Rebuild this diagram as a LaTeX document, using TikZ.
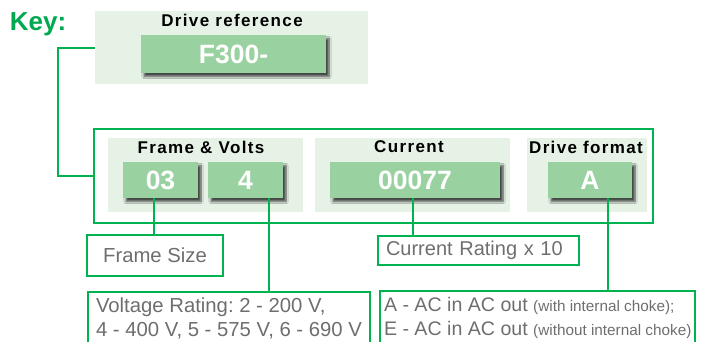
\documentclass[tikz,border=0pt]{standalone}
\usepackage{fontspec}
\setmainfont{Liberation Sans}
\usetikzlibrary{shadows.blur}
\definecolor{keygreen}{RGB}{0,168,80}
\definecolor{linegreen}{RGB}{0,178,80}
\definecolor{panelfill}{RGB}{230,242,230}
\definecolor{codefill}{RGB}{153,209,160}
\definecolor{notegray}{RGB}{110,110,112}
\begin{document}
\begin{tikzpicture}[x=1pt,y=-1pt,
		panel/.style={fill=panelfill, inner sep=0pt},
		codebox/.style={fill=codefill, text=white, inner sep=0pt, font=\fontsize{26.5}{26}\selectfont\bfseries,
			blur shadow={shadow xshift=3pt, shadow yshift=-3.5pt, shadow blur steps=6, shadow opacity=70}},
		heading/.style={font=\fontsize{17}{18}\selectfont\bfseries\addfontfeatures{LetterSpace=8}},
		note/.style={draw=linegreen, line width=2pt, text=notegray, font=\fontsize{20.3}{24}\selectfont\frenchspacing, align=left},
		link/.style={draw=linegreen, line width=2pt}]
			\useasboundingbox (0,0) rectangle (702,341);
			\clip (0,0) rectangle (702,341);
			\node (key) [text=keygreen, font=\fontsize{26}{26}\selectfont\bfseries] at (38,24) {Key:};
			\node (refpanel) [panel, minimum width=273, minimum height=73] at (231.5,47.5) {};
			\node (reftitle) [heading] at (232,20) {Drive reference};
			\node (bF300) [codebox, minimum width=185, minimum height=38] at (233.5,54) {F300-};
			\node (bigbox) [draw=linegreen, line width=2pt, minimum width=559, minimum height=94] at (373.5,176) {};
			\node (fvpanel) [panel, minimum width=195, minimum height=74] at (205.5,175) {};
			\node (curpanel) [panel, minimum width=195, minimum height=74] at (412.5,175) {};
			\node (fmtpanel) [panel, minimum width=120, minimum height=74] at (587,175) {};
			\node (fvtitle) [heading] at (201,147) {Frame \& Volts};
			\node (curtitle) [heading] at (409,147) {Current};
			\node (fmttitle) [heading] at (586,147) {Drive format};
			\node (b03) [codebox, minimum width=75, minimum height=36] at (160.5,180) {03};
			\node (b4) [codebox, minimum width=75, minimum height=36] at (245.5,180) {4};
			\node (b00077) [codebox, minimum width=170, minimum height=36] at (415,180) {00077};
			\node (bA) [codebox, minimum width=84, minimum height=36] at (590,180) {A};
			\node (framesize) [note, minimum width=136, minimum height=41] at (155,255.5) {Frame Size};
			\node (currating) [note, font=\fontsize{20}{24}\selectfont, anchor=north west, text width=185, minimum height=29, inner xsep=8pt, inner ysep=0pt] at (377,235) {Current Rating x 10};
			\node (voltage) [note, anchor=north west, inner xsep=8pt, inner ysep=6pt] at (87,291) {Voltage Rating: 2 - 200 V,\\4 - 400 V, 5 - 575 V, 6 - 690 V};
			\node (acdc) [note, font=\fontsize{19.6}{24}\selectfont\frenchspacing, anchor=north west, inner xsep=4pt, inner ysep=6pt] at (379,290) {A - AC in AC out {\fontsize{15.3}{24}\selectfont(with internal choke);}\\E - AC in AC out {\fontsize{15.3}{24}\selectfont(without internal choke)}};
			\draw [link] (refpanel.west) -- ++(-37,0) |- (bigbox.west);
			\draw [link] ([xshift=-6.5pt]b03.south) -- ([xshift=-6.5pt]b03.south |- framesize.north);
			\draw [link] ([xshift=23.5pt]b4.south) -- ([xshift=23.5pt]b4.south |- voltage.north);
			\draw [link] ([xshift=-2pt]b00077.south) -- ([xshift=-2pt]b00077.south |- currating.north);
			\draw [link] ([xshift=18pt]bA.south) -- ([xshift=18pt]bA.south |- acdc.north);
		\end{tikzpicture}
\end{document}
